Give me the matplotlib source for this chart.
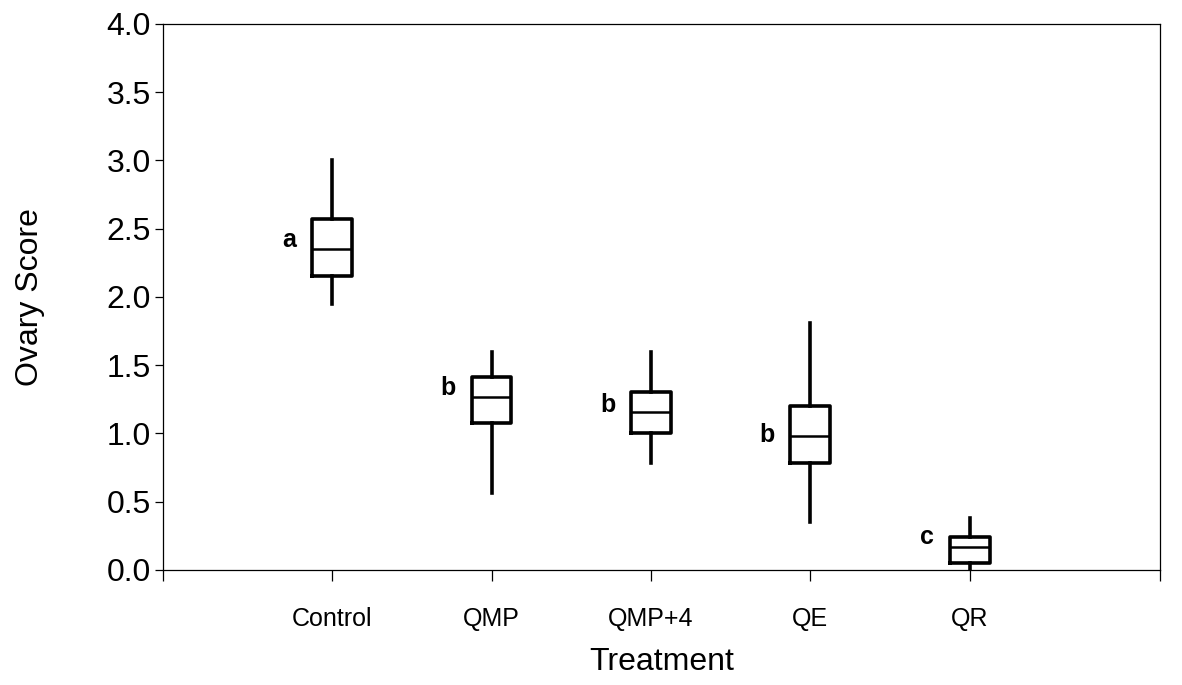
import numpy as np
import matplotlib.pyplot as plt

# box plot of ovary scores per treatment
treatments = ['Control', 'QMP', 'QMP+4', 'QE', 'QR']
whisker_low = [1.95, 0.56, 0.78, 0.35, 0.00]
q1 = [2.15, 1.08, 1.00, 0.78, 0.05]
median = [2.35, 1.27, 1.16, 0.98, 0.17]
q3 = [2.57, 1.41, 1.30, 1.20, 0.24]
whisker_high = [3.00, 1.60, 1.60, 1.81, 0.38]
letters = ['a', 'b', 'b', 'b', 'c']
letter_y = [2.42, 1.33, 1.21, 0.99, 0.24]

plt.rcParams['font.family'] = ['Liberation Sans', 'DejaVu Sans']

fig = plt.figure(figsize=(11.82, 6.85), dpi=100)
ax = fig.add_axes([0.138, 0.168, 0.843, 0.797])

stats = []
for i in range(len(treatments)):
    stats.append({
        'whislo': whisker_low[i], 'q1': q1[i], 'med': median[i],
        'q3': q3[i], 'whishi': whisker_high[i], 'label': treatments[i],
    })

pos = np.arange(1, len(treatments) + 1)
ax.bxp(stats, positions=pos, widths=0.25, showcaps=False, showfliers=False,
       boxprops=dict(color='black', linewidth=2.6),
       whiskerprops=dict(color='black', linewidth=2.6),
       medianprops=dict(color='black', linewidth=1.8))

# significance letters to the left of each box
for p, l, y in zip(pos, letters, letter_y):
    ax.text(p - 0.225, y, l, ha='right', va='center', fontsize=18,
            fontweight='bold')

ax.set_xlim(-0.06, 6.19)
ax.set_ylim(0, 4.0)
ax.set_yticks(np.arange(0, 4.01, 0.5))
ax.set_yticklabels([f'{v:.1f}' for v in np.arange(0, 4.01, 0.5)], fontsize=23)
ax.set_xticks(pos)
ax.set_xticklabels(treatments, fontsize=18)
ax.set_xticks([-0.06, 6.19], minor=True)

ax.tick_params(axis='y', direction='out', length=6, width=0.9, pad=3)
ax.tick_params(axis='x', which='both', direction='out', length=8, width=0.9, pad=19)

for s in ax.spines.values():
    s.set_linewidth(0.9)

ax.set_ylabel('Ovary Score', fontsize=23, labelpad=44)
ax.set_xlabel('Treatment', fontsize=23, labelpad=11)

fig.savefig('out.png', dpi=100)
